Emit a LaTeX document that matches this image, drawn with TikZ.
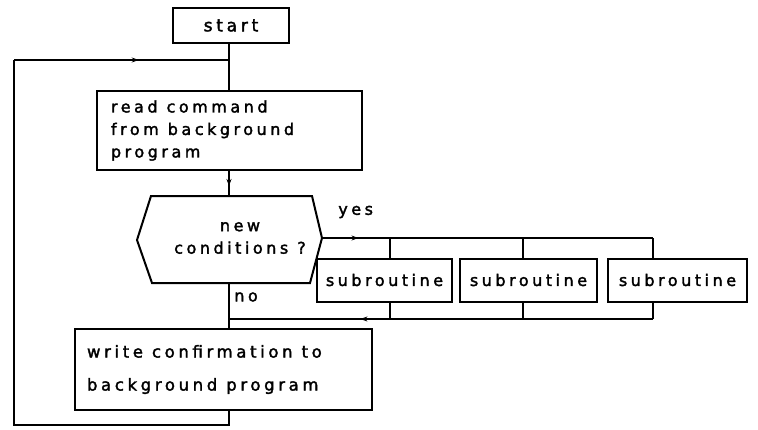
\documentclass[tikz,border=0pt]{standalone}
\usepackage{fontspec}
\setmainfont{DejaVu Sans}[LetterSpace=22,FakeBold=2]
\usetikzlibrary{decorations.markings,arrows.meta}
\newcommand\wsp{\hspace{9pt}}
\begin{document}
\begin{tikzpicture}[x=1pt,y=-1pt,line width=2pt,
  txt/.style={font=\fontsize{16}{22.5}\selectfont},
  box/.style={draw,line width=2pt,inner sep=0pt,txt},
  midarrow/.style={postaction={decorate},decoration={markings,
     mark=at position #1 with {\arrow[line width=1pt]{Stealth[length=7pt,width=5pt]}}}}]
\useasboundingbox (0,0) rectangle (758,429);

% boxes
\node[box,minimum width=116pt,minimum height=35pt,font=\fontsize{17}{20}\selectfont] (start) at (231,25.5) {start};
\node[box,minimum width=265pt,minimum height=79pt,align=left,text width=237pt] (read) at (229.5,130.5)
  {read\wsp command\\from\wsp background\\program};
\node[box,minimum width=297pt,minimum height=81pt,align=left,text width=273pt,
      font=\fontsize{16.5}{33}\selectfont] (write) at (223.5,369.5)
  {write\wsp confirmation\wsp to\\background\wsp program};
\node[box,minimum width=135pt,minimum height=43pt] (s1) at (384.5,280) {subroutine};
\node[box,minimum width=137pt,minimum height=43pt] (s2) at (528.5,280) {subroutine};
\node[box,minimum width=139pt,minimum height=43pt] (s3) at (677.5,280) {subroutine};

% decision hexagon
\coordinate (hexT) at (229,196);
\coordinate (hexB) at (229,283);
\coordinate (hexR) at (322,238);
\draw (151,196) -- (312,196) -- (hexR) -- (310,283) -- (152,283) -- (137,240) -- cycle;
\node[txt,align=center] (cond) at (240,238) {new\hspace{14pt}\\conditions\wsp ?};

% labels
\node[txt,anchor=west] (yes) at (334,212) {yes};
\node[txt,anchor=west] (no) at (230,297) {no};

% junction coordinates
\coordinate (J) at (229,60);
\coordinate (loopTL) at (14,60);
\coordinate (loopBL) at (14,425);
\coordinate (noJ) at (229,319);
\coordinate (yesE) at (653,238);
\coordinate (botE) at (653,319);
\coordinate (d1) at (390,238);
\coordinate (d2) at (523,238);

% connectors
\draw (start.south -| J) -- (read.north -| J);
\draw[midarrow=0.6] (read.south -| J) -- (hexT);
\draw (hexB) -- (write.north -| hexB);
\draw (write.south -| hexB) |- (loopBL) -- (loopTL);
\draw[midarrow=0.58] (loopTL) -- (J);
\draw[midarrow=0.11] (hexR) -- (yesE);
\draw (d1) -- (d1 |- s1.north);
\draw (d2) -- (d2 |- s2.north);
\draw (yesE) -- (yesE |- s3.north);
\draw (d1 |- s1.south) -- (d1 |- botE);
\draw (d2 |- s2.south) -- (d2 |- botE);
\draw (botE |- s3.south) -- (botE);
\draw[midarrow=0.69] (botE) -- (noJ);
\end{tikzpicture}
\end{document}
